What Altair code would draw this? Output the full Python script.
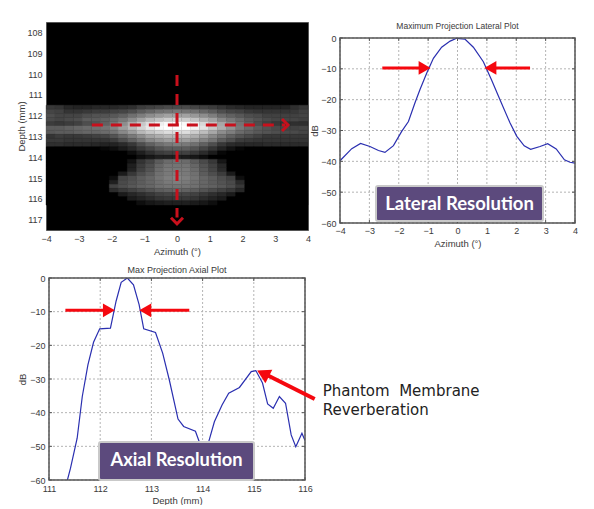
import altair as alt
import pandas as pd

# ---- heat map grey levels (columns: azimuth left to right, rows: depth) ----
heat_depths = [111.6, 111.8, 112.0, 112.2, 112.4, 112.6, 112.8, 113.0, 113.2, 113.4, 113.6, 113.8, 114.0,
               114.2, 114.4, 114.6, 114.8, 115.0, 115.2, 115.4, 115.6, 115.8, 116.0, 116.2]
heat_azimuths = [-3.86, -3.59, -3.31, -3.03, -2.76, -2.48, -2.21, -1.93, -1.66, -1.38, -1.10, -0.83, -0.55, -0.28, 0.0,
                 0.28, 0.55, 0.83, 1.10, 1.38, 1.66, 1.93, 2.21, 2.48, 2.76, 3.03, 3.31, 3.59, 3.86]
heat_rows = [
    [60, 55, 40, 35, 35, 40, 40, 40, 45, 50, 65, 70, 75, 80, 80, 80, 75, 70, 65, 55, 45, 40, 35, 35, 35, 35, 35, 50, 60],
    [75, 70, 55, 55, 60, 65, 65, 70, 75, 85, 100, 110, 120, 125, 128, 125, 120, 110, 100, 85, 75, 70, 60, 55, 55, 55, 55, 60, 70],
    [85, 75, 75, 75, 85, 90, 90, 95, 105, 120, 135, 150, 160, 170, 170, 170, 160, 150, 135, 115, 105, 95, 85, 80, 70, 70, 70, 70, 75],
    [80, 75, 80, 85, 100, 100, 105, 115, 130, 150, 170, 190, 200, 210, 215, 210, 200, 185, 170, 145, 130, 115, 100, 90, 80, 75, 75, 75, 70],
    [65, 60, 65, 70, 85, 90, 105, 125, 150, 180, 205, 225, 240, 250, 255, 250, 240, 220, 200, 175, 150, 125, 105, 85, 70, 60, 55, 50, 50],
    [100, 100, 105, 110, 115, 120, 125, 140, 165, 190, 215, 235, 250, 255, 255, 255, 245, 230, 205, 180, 155, 130, 115, 100, 90, 80, 75, 70, 75],
    [95, 100, 100, 105, 110, 110, 115, 125, 145, 165, 190, 205, 215, 225, 225, 225, 210, 195, 175, 150, 135, 115, 105, 95, 90, 85, 80, 80, 75],
    [55, 65, 60, 60, 65, 70, 75, 90, 110, 130, 150, 170, 180, 190, 190, 190, 180, 165, 145, 125, 105, 90, 80, 70, 60, 60, 60, 60, 60],
    [60, 60, 55, 55, 55, 55, 55, 65, 85, 105, 125, 145, 155, 165, 165, 165, 155, 140, 125, 100, 85, 65, 60, 55, 55, 55, 55, 55, 55],
    [50, 50, 45, 45, 45, 40, 35, 35, 45, 60, 85, 105, 120, 130, 135, 130, 120, 105, 85, 60, 45, 40, 40, 40, 45, 45, 45, 45, 45],
    [0, 0, 0, 0, 0, 0, 5, 10, 25, 40, 60, 75, 90, 100, 100, 100, 90, 75, 55, 35, 15, 5, 0, 0, 0, 0, 0, 0, 0],
    [0, 0, 0, 0, 0, 0, 0, 0, 0, 10, 30, 50, 65, 70, 70, 70, 60, 45, 25, 5, 0, 0, 0, 0, 0, 0, 0, 0, 0],
    [0, 0, 0, 0, 0, 0, 0, 0, 0, 0, 10, 20, 30, 30, 30, 25, 20, 10, 0, 0, 0, 0, 0, 0, 0, 0, 0, 0, 0],
    [0, 0, 0, 0, 0, 0, 0, 0, 0, 15, 55, 75, 100, 115, 120, 115, 100, 80, 60, 20, 0, 0, 0, 0, 0, 0, 0, 0, 0],
    [0, 0, 0, 0, 0, 0, 0, 0, 0, 30, 65, 85, 110, 125, 125, 125, 110, 90, 70, 40, 0, 0, 0, 0, 0, 0, 0, 0, 0],
    [0, 0, 0, 0, 0, 0, 0, 0, 0, 35, 70, 90, 115, 130, 130, 130, 115, 95, 75, 45, 0, 0, 0, 0, 0, 0, 0, 0, 0],
    [0, 0, 0, 0, 0, 0, 0, 0, 25, 60, 85, 100, 120, 130, 135, 130, 120, 100, 85, 65, 25, 0, 0, 0, 0, 0, 0, 0, 0],
    [0, 0, 0, 0, 0, 0, 0, 10, 75, 85, 100, 110, 125, 135, 140, 135, 125, 110, 100, 85, 70, 10, 0, 0, 0, 0, 0, 0, 0],
    [0, 0, 0, 0, 0, 0, 0, 30, 80, 90, 100, 110, 120, 130, 135, 130, 120, 110, 100, 90, 80, 45, 0, 0, 0, 0, 0, 0, 0],
    [0, 0, 0, 0, 0, 0, 0, 70, 85, 95, 105, 110, 120, 125, 125, 125, 120, 110, 105, 95, 85, 60, 0, 0, 0, 0, 0, 0, 0],
    [0, 0, 0, 0, 0, 0, 0, 45, 60, 70, 80, 90, 100, 105, 110, 105, 100, 90, 80, 70, 60, 40, 0, 0, 0, 0, 0, 0, 0],
    [0, 0, 0, 0, 0, 0, 0, 0, 25, 40, 50, 60, 70, 75, 75, 75, 70, 60, 50, 40, 25, 0, 0, 0, 0, 0, 0, 0, 0],
    [0, 0, 0, 0, 0, 0, 0, 0, 0, 25, 35, 45, 55, 60, 60, 60, 55, 45, 35, 25, 0, 0, 0, 0, 0, 0, 0, 0, 0],
    [0, 0, 0, 0, 0, 0, 0, 0, 0, 0, 10, 20, 25, 30, 30, 30, 25, 20, 10, 0, 0, 0, 0, 0, 0, 0, 0, 0, 0],
]

# ---- lateral plot ----
lat_az = [-4, -3.6, -3.3, -2.98, -2.69, -2.47, -2.18, -1.9, -1.67, -1.45, -1.28, -1.05, -0.82, -0.54, -0.25, -0.03,
          0.26, 0.54, 0.88, 1.16, 1.45, 1.79, 2.02, 2.27, 2.49, 2.81, 3.07, 3.36, 3.64, 3.83, 4]
lat_db = [-39.8, -35.9, -34.2, -35.2, -36.5, -37.1, -34.9, -30.3, -27.1, -21.1, -16.8, -11.4, -6.6, -3.0, -1.0, -0.1,
          -0.4, -3.0, -7.7, -13.6, -20.1, -27.6, -31.9, -34.95, -36.1, -35.2, -34.3, -36, -39.5, -40.3, -40.6]

# ---- axial plot ----
ax_depth = [111.36, 111.42, 111.55, 111.65, 111.76, 111.87, 111.99, 112.20, 112.31, 112.41, 112.53, 112.65, 112.76,
            112.85, 113.08, 113.22, 113.35, 113.52, 113.63, 113.86, 113.97, 114.04, 114.12, 114.23, 114.38, 114.51,
            114.72, 114.95, 115.04, 115.17, 115.27, 115.38, 115.50, 115.62, 115.73, 115.82, 115.94, 116]
ax_db = [-60, -56.5, -47.6, -35.2, -25.8, -19.1, -15.1, -14.9, -6.9, -1.3, 0, -2, -7.9,
         -15.1, -16.2, -22.3, -30.3, -41.9, -44.1, -45.5, -50.1, -53, -48.6, -42.7, -37.7, -34.2,
         -32.5, -27.8, -27.5, -31.2, -37.4, -38.7, -35.2, -37.2, -46.6, -50.1, -46.1, -48.3]

FONT = "Liberation Sans"
TXT = "#3a3a3a"
FRAME = "#555555"
LINE = "#2a2fb0"
RED = "#f5080f"
DRED = "#c8101c"
PURPLE = "#5c4a7d"
GRID = "#b4b4b4"

az_ticks = [-4, -3, -2, -1, 0, 1, 2, 3, 4]
db_ticks = [-60, -50, -40, -30, -20, -10, 0]
dp_ticks = [111, 112, 113, 114, 115, 116]
hd_ticks = [108, 109, 110, 111, 112, 113, 114, 115, 116, 117]


def ax_style(values, title, **kw):
    return alt.Axis(values=values, title=title, format="d", tickSize=0, labelFlush=False, labelOverlap=False,
                    labelFontSize=9, labelColor=TXT, titleFontSize=9.5, titleFontWeight="normal", titleColor=TXT,
                    labelFont=FONT, titleFont=FONT, domain=False, grid=False, **kw)


def grid_and_ticks(xvals, yvals, xscale, yscale, x0, x1, h, xa, ya):
    """Returns (grid layers, inward tick and frame layers) for a panel whose frame spans x0..x1, 0..h."""
    tx = pd.DataFrame({"v": xvals})
    ty = pd.DataFrame({"v": yvals})
    X = alt.X("v:Q", scale=xscale, axis=xa)
    Y = alt.Y("v:Q", scale=yscale, axis=ya)
    g = [
        alt.Chart(tx).mark_rule(color=GRID, strokeWidth=1, strokeDash=[2, 2]).encode(x=X, y=alt.value(0), y2=alt.value(h)),
        alt.Chart(ty).mark_rule(color=GRID, strokeWidth=1, strokeDash=[2, 2]).encode(y=Y, x=alt.value(x0), x2=alt.value(x1)),
    ]
    bx = alt.Chart(tx).mark_rule(color=FRAME, strokeWidth=1)
    by = alt.Chart(ty).mark_rule(color=FRAME, strokeWidth=1)
    t = [
        bx.encode(x=X, y=alt.value(0), y2=alt.value(3)),
        bx.encode(x=X, y=alt.value(h - 3), y2=alt.value(h)),
        by.encode(y=Y, x=alt.value(x0), x2=alt.value(x0 + 3)),
        by.encode(y=Y, x=alt.value(x1 - 3), x2=alt.value(x1)),
        alt.Chart(pd.DataFrame({"k": [1]})).mark_rect(fillOpacity=0, stroke=FRAME, strokeWidth=1.5).encode(
            x=alt.value(x0), x2=alt.value(x1), y=alt.value(0), y2=alt.value(h)),
    ]
    return g, t


def red_arrow(xs, xs2, tip, yv, xscale, yscale, xa, ya, shape):
    row = pd.DataFrame({"a": [xs], "b": [xs2], "y": [yv], "t": [tip]})
    shaft = alt.Chart(row).mark_rule(color=RED, strokeWidth=3).encode(
        x=alt.X("a:Q", scale=xscale, axis=xa), x2="b:Q", y=alt.Y("y:Q", scale=yscale, axis=ya))
    head = alt.Chart(row).mark_point(shape=shape, filled=True, color=RED, opacity=1, size=190).encode(
        x=alt.X("t:Q", scale=xscale, axis=xa), y=alt.Y("y:Q", scale=yscale, axis=ya))
    return [shaft, head]


def label_box(text, x0, x1, y0, y1, size):
    one = pd.DataFrame({"k": [1]})
    box = alt.Chart(one).mark_rect(fill=PURPLE, stroke="#c9c9c9", strokeWidth=2, cornerRadius=2).encode(
        x=alt.value(x0), x2=alt.value(x1), y=alt.value(y0), y2=alt.value(y1))
    lab = alt.Chart(one).mark_text(text=text, font="Lato", fontWeight="bold", fontSize=size, color="white",
                                   align="center", baseline="middle").encode(
        x=alt.value((x0 + x1) / 2), y=alt.value((y0 + y1) / 2))
    return [box, lab]


def plot_title(text, x, y, size):
    one = pd.DataFrame({"k": [1]})
    return alt.Chart(one).mark_text(text=text, font=FONT, fontSize=size, color=TXT, align="center",
                                    baseline="bottom").encode(x=alt.value(x), y=alt.value(y))


# ---- heat panel ----
H_W, H_H = 262, 208
heat_x = alt.Scale(domain=[-4, 4], nice=False, zero=False)
heat_y = alt.Scale(domain=[117.5, 107.5], nice=False, zero=False)
hxa = ax_style(az_ticks, "Azimuth (°)", labelPadding=4, titlePadding=3)
hya = ax_style(hd_ticks, "Depth (mm)", labelPadding=4, titlePadding=0)
records = []
for d, row in zip(heat_depths, heat_rows):
    for a, v in zip(heat_azimuths, row):
        records.append({"x0": a - 0.138, "x1": a + 0.138, "y0": d - 0.1, "y1": d + 0.1, "g": v})
heat_df = pd.DataFrame(records)
grey = alt.Scale(domain=[0, 255], range=["#000000", "#ffffff"])
cells = alt.Chart(heat_df).mark_rect(strokeWidth=0.4).encode(
    x=alt.X("x0:Q", scale=heat_x, axis=hxa),
    x2="x1:Q",
    y=alt.Y("y0:Q", scale=heat_y, axis=hya),
    y2="y1:Q",
    fill=alt.Color("g:Q", scale=grey, legend=None),
    stroke=alt.Color("g:Q", scale=grey, legend=None),
)
h_dash = alt.Chart(pd.DataFrame({"a": [-2.6], "b": [3.3], "y": [112.45]})).mark_rule(
    color=DRED, strokeWidth=3, strokeDash=[11, 8]).encode(
    x=alt.X("a:Q", scale=heat_x, axis=hxa), x2="b:Q", y=alt.Y("y:Q", scale=heat_y, axis=hya))
v_dash = alt.Chart(pd.DataFrame({"x": [0], "a": [110.05], "b": [116.9]})).mark_rule(
    color=DRED, strokeWidth=3, strokeDash=[11, 8]).encode(
    x=alt.X("x:Q", scale=heat_x, axis=hxa), y=alt.Y("a:Q", scale=heat_y, axis=hya), y2="b:Q")
h_head = alt.Chart(pd.DataFrame({"x": [3.39], "y": [112.45]})).mark_point(
    shape="M-1,-1L0,0L-1,1", filled=False, color=DRED, strokeWidth=3, size=144, opacity=1).encode(
    x=alt.X("x:Q", scale=heat_x, axis=hxa), y=alt.Y("y:Q", scale=heat_y, axis=hya))
v_head = alt.Chart(pd.DataFrame({"x": [0], "y": [117.2]})).mark_point(
    shape="M-1,-1L0,0L1,-1", filled=False, color=DRED, strokeWidth=3, size=144, opacity=1).encode(
    x=alt.X("x:Q", scale=heat_x, axis=hxa), y=alt.Y("y:Q", scale=heat_y, axis=hya))
heat = alt.layer(cells, h_dash, v_dash, h_head, v_head).properties(
    width=H_W, height=H_H, view=alt.ViewConfig(fill="black", stroke=FRAME, strokeWidth=1))

# ---- lateral panel ----
L_W, L_H = 235, 185
lat_xs = alt.Scale(domain=[-4, 4], nice=False, zero=False)
lat_ys = alt.Scale(domain=[-60, 0], nice=False, zero=False)
lxa = ax_style(az_ticks, "Azimuth (°)", labelPadding=3, titlePadding=3)
lya = ax_style(db_ticks, "dB", labelPadding=4, titlePadding=1)
lat_line = alt.Chart(pd.DataFrame({"x": lat_az, "y": lat_db})).mark_line(color=LINE, strokeWidth=1.2).encode(
    x=alt.X("x:Q", scale=lat_xs, axis=lxa),
    y=alt.Y("y:Q", scale=lat_ys, axis=lya),
)
lat_g, lat_t = grid_and_ticks(az_ticks, db_ticks, lat_xs, lat_ys, 0, L_W, L_H, lxa, lya)
lateral_plot = alt.layer(
    *lat_g,
    lat_line,
    *lat_t,
    *red_arrow(-2.56, -1.2, -1.12, -9.7, lat_xs, lat_ys, lxa, lya, "triangle-right"),
    *red_arrow(2.47, 1.2, 1.12, -9.7, lat_xs, lat_ys, lxa, lya, "triangle-left"),
    *label_box("Lateral Resolution", 36, 203, 148, 183, 18.5),
).properties(width=L_W, height=L_H, view=alt.ViewConfig(stroke=None, fill="white"))
lateral_head = plot_title("Maximum Projection Lateral Plot", L_W / 2, 9, 8.5).properties(
    width=L_W, height=9, view=alt.ViewConfig(stroke=None))
lateral = alt.vconcat(lateral_head, lateral_plot, spacing=3)

# ---- axial panel ----
A_W, A_H = 256, 202
A_X0 = 3
ax_xs = alt.Scale(domain=[111, 116], nice=False, zero=False, range=[A_X0, A_X0 + A_W])
ax_ys = alt.Scale(domain=[-60, 0], nice=False, zero=False)
axa = ax_style(dp_ticks, "Depth (mm)", labelPadding=4, titlePadding=2, titleX=A_X0 + A_W / 2)
aya = ax_style(db_ticks, "dB", labelPadding=4, titlePadding=2, offset=-A_X0)
ax_line = alt.Chart(pd.DataFrame({"x": ax_depth, "y": ax_db})).mark_line(color=LINE, strokeWidth=1.2, clip=True).encode(
    x=alt.X("x:Q", scale=ax_xs, axis=axa),
    y=alt.Y("y:Q", scale=ax_ys, axis=aya),
)
one = pd.DataFrame({"k": [1]})
phantom_shaft = alt.Chart(one).mark_rule(color=RED, strokeWidth=4).encode(
    x=alt.value(A_X0 + 265.7), x2=alt.value(A_X0 + 213), y=alt.value(121), y2=alt.value(94.5))
phantom_head = alt.Chart(one).mark_point(shape="triangle-up", filled=True, color=RED, opacity=1, size=230, angle=297).encode(
    x=alt.value(A_X0 + 214), y=alt.value(95.5))
ph1 = alt.Chart(one).mark_text(text="Phantom\u00a0\u00a0Membrane", font="DejaVu Sans", fontSize=15, color="#222222",
                               align="left", baseline="middle").encode(x=alt.value(A_X0 + 273.7), y=alt.value(113))
ph2 = alt.Chart(one).mark_text(text="Reverberation", font="DejaVu Sans", fontSize=15, color="#222222",
                               align="left", baseline="middle").encode(x=alt.value(A_X0 + 273.7), y=alt.value(132))
ax_g, ax_t = grid_and_ticks(dp_ticks, db_ticks, ax_xs, ax_ys, A_X0, A_X0 + A_W, A_H, axa, aya)
axial = alt.layer(
    *ax_g,
    ax_line,
    *ax_t,
    *red_arrow(111.32, 112.1, 112.17, -9.6, ax_xs, ax_ys, axa, aya, "triangle-right"),
    *red_arrow(113.74, 112.95, 112.88, -9.6, ax_xs, ax_ys, axa, aya, "triangle-left"),
    *label_box("Axial Resolution", A_X0 + 50, A_X0 + 205, 164, 202, 18.3),
    phantom_shaft, phantom_head, ph1, ph2,
    plot_title("Max Projection Axial Plot", A_X0 + A_W / 2, -3, 9),
).properties(width=A_X0 + A_W, height=A_H, view=alt.ViewConfig(stroke=None, fill="white"))

top = alt.hconcat(heat, lateral, spacing=-3)
chart = alt.vconcat(top, axial, spacing=10).resolve_scale(color="independent").properties(
    padding={"left": 8, "top": 13, "right": 0, "bottom": 0}, background="white")
chart.save("out.html", embed_options={"renderer": "svg", "actions": False})
